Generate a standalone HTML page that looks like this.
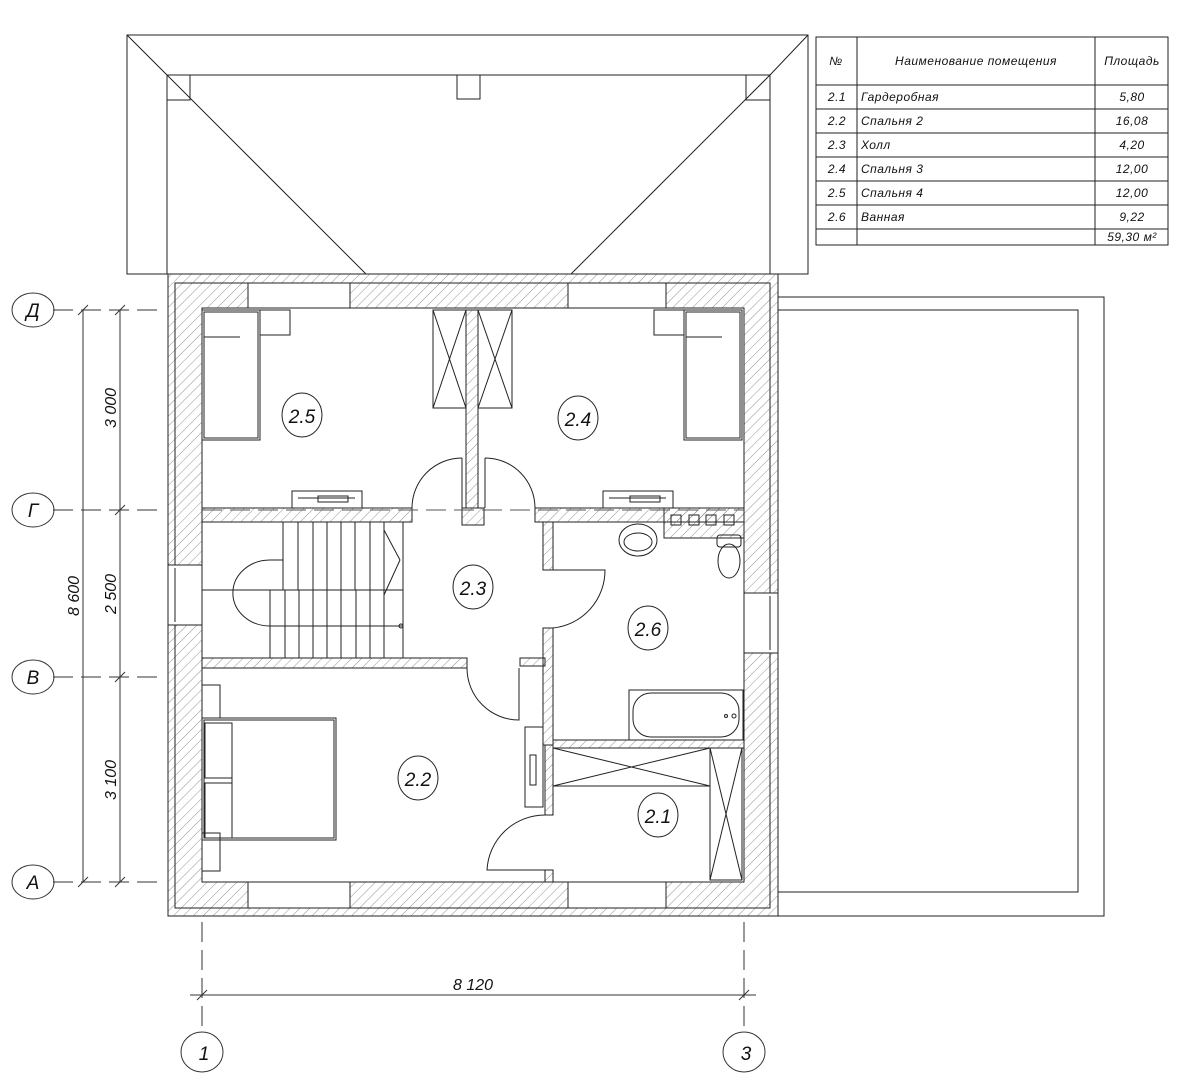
<!DOCTYPE html>
<html><head><meta charset="utf-8"><style>
html,body{margin:0;padding:0;background:#fff;}
svg{display:block;font-family:"Liberation Sans","DejaVu Sans",sans-serif;}
text{font-style:italic;fill:#111;}
</style></head><body>
<svg width="1177" height="1080" viewBox="0 0 1177 1080" xmlns="http://www.w3.org/2000/svg">
<defs>
<pattern id="h" width="7" height="7" patternUnits="userSpaceOnUse" patternTransform="rotate(45)">
<line x1="0" y1="0" x2="0" y2="7" stroke="#777" stroke-width="0.8"/>
</pattern>
</defs>
<g stroke="#222" stroke-width="1" fill="none">
<rect x="127" y="35" width="681" height="239"/>
<rect x="167" y="75" width="603" height="199"/>
<line x1="127" y1="35" x2="167" y2="75"/><line x1="808" y1="35" x2="770" y2="75"/>
<line x1="167" y1="75" x2="366" y2="274"/><line x1="770" y1="75" x2="571" y2="274"/>
<rect x="167" y="75" width="23" height="25"/><rect x="746" y="75" width="24" height="25"/>
<rect x="457" y="75" width="23" height="24"/>
<rect x="778" y="297" width="326" height="619"/>
<polyline points="778,310 1078,310 1078,892 778,892"/>

<path d="M168,274 H778 V916 H168 Z M202,308 V882 H744 V308 Z" fill="url(#h)" fill-rule="evenodd"/>
<rect x="175" y="283" width="595" height="625"/>
<g fill="#fff">
<rect x="248" y="283" width="102" height="25"/><rect x="568" y="283" width="98" height="25"/>
<rect x="248" y="882" width="102" height="26"/><rect x="568" y="882" width="98" height="26"/>
<rect x="168" y="565" width="34" height="60"/><rect x="744" y="593" width="34" height="60"/>
</g>
<line x1="252" y1="283" x2="346" y2="283"/><line x1="572" y1="283" x2="662" y2="283"/>
<line x1="252" y1="908" x2="346" y2="908"/><line x1="572" y1="908" x2="662" y2="908"/>
<line x1="175" y1="568" x2="175" y2="622"/><line x1="770" y1="596" x2="770" y2="650"/>

<g fill="url(#h)">
<rect x="202" y="508" width="210" height="14"/>
<rect x="462" y="508" width="22" height="17"/>
<rect x="535" y="508" width="209" height="14"/>
<rect x="466" y="310" width="12" height="198"/>
<rect x="202" y="658" width="265" height="10"/>
<rect x="520" y="658" width="25" height="8"/>
<rect x="543" y="522" width="10" height="48"/>
<rect x="543" y="628" width="10" height="117"/>
<rect x="553" y="740" width="191" height="8"/>
<rect x="545" y="745" width="8" height="70"/>
<rect x="545" y="870" width="8" height="12"/>
<rect x="664" y="508" width="80" height="30"/>
</g>
<rect x="202" y="522" width="201" height="136"/>
<g>
<line x1="283" y1="522" x2="283" y2="590"/><line x1="298" y1="522" x2="298" y2="590"/><line x1="313" y1="522" x2="313" y2="590"/><line x1="327" y1="522" x2="327" y2="590"/><line x1="341" y1="522" x2="341" y2="590"/><line x1="355" y1="522" x2="355" y2="590"/><line x1="370" y1="522" x2="370" y2="590"/><line x1="384" y1="522" x2="384" y2="590"/>
<line x1="252" y1="590" x2="403" y2="590"/>
<line x1="270" y1="590" x2="270" y2="658"/><line x1="285" y1="590" x2="285" y2="658"/><line x1="299" y1="590" x2="299" y2="658"/><line x1="313" y1="590" x2="313" y2="658"/><line x1="327" y1="590" x2="327" y2="658"/><line x1="341" y1="590" x2="341" y2="658"/><line x1="356" y1="590" x2="356" y2="658"/><line x1="370" y1="590" x2="370" y2="658"/><line x1="384" y1="590" x2="384" y2="658"/>
<line x1="270" y1="560" x2="283" y2="560"/><line x1="202" y1="590" x2="252" y2="590"/>
<path d="M283,560 H270 A36,32 0 0 0 270,626 H403"/>
<line x1="384" y1="530" x2="400" y2="560"/><line x1="400" y1="560" x2="384" y2="595"/>
<circle cx="401" cy="626" r="2"/>
</g>
<path d="M412,508 A50,50 0 0 1 462,458"/><line x1="462" y1="458" x2="462" y2="508"/>
<path d="M535,508 A50,50 0 0 0 485,458"/><line x1="485" y1="458" x2="485" y2="508"/>
<path d="M553,570 H605 A58,58 0 0 1 553,628"/>
<path d="M467,668 A52,52 0 0 0 519,720 V668"/>
<path d="M545,815 A58,58 0 0 0 487,870 H545"/>
<line x1="202" y1="510" x2="744" y2="510" stroke-dasharray="20,8" stroke="#555"/>
<rect x="202" y="310" width="58" height="130"/><rect x="204" y="312" width="54" height="126"/>
<rect x="260" y="310" width="30" height="25"/>
<rect x="684" y="310" width="58" height="130"/><rect x="686" y="312" width="54" height="126"/>
<rect x="654" y="310" width="30" height="25"/>
<line x1="204" y1="337" x2="240" y2="337"/><line x1="686" y1="337" x2="722" y2="337"/>
<rect x="433" y="310" width="33" height="98"/><line x1="433" y1="310" x2="466" y2="408"/><line x1="466" y1="310" x2="433" y2="408"/>
<rect x="478" y="310" width="34" height="98"/><line x1="478" y1="310" x2="512" y2="408"/><line x1="512" y1="310" x2="478" y2="408"/>
<rect x="292" y="491" width="70" height="17"/><line x1="298" y1="498" x2="355" y2="498"/><rect x="318" y="496" width="30" height="6"/>
<rect x="603" y="491" width="70" height="17"/><line x1="609" y1="498" x2="666" y2="498"/><rect x="630" y="496" width="30" height="6"/>
<rect x="671" y="515" width="10" height="10"/><rect x="689" y="515" width="10" height="10"/><rect x="706" y="515" width="10" height="10"/><rect x="724" y="515" width="10" height="10"/>
<ellipse cx="638" cy="540" rx="19" ry="16"/><ellipse cx="638" cy="542" rx="14" ry="9"/>
<rect x="717" y="535" width="24" height="12" rx="3"/><ellipse cx="729" cy="561" rx="11" ry="17"/>
<rect x="629" y="690" width="114" height="50"/><rect x="633" y="693" width="106" height="44" rx="18"/>
<circle cx="726" cy="716" r="1.5"/><circle cx="734" cy="716" r="2"/>
<rect x="553" y="748" width="157" height="38"/><line x1="553" y1="748" x2="710" y2="786"/><line x1="710" y1="748" x2="553" y2="786"/>
<rect x="710" y="748" width="32" height="132"/><line x1="710" y1="748" x2="742" y2="880"/><line x1="742" y1="748" x2="710" y2="880"/>
<rect x="525" y="727" width="18" height="80"/><rect x="530" y="755" width="6" height="30"/>
<rect x="202" y="685" width="18" height="33"/><rect x="202" y="833" width="18" height="38"/>
<rect x="202" y="718" width="134" height="122"/><rect x="204" y="720" width="130" height="118"/>
<rect x="205" y="723" width="27" height="55"/><rect x="205" y="783" width="27" height="55"/>
<line x1="232" y1="733" x2="232" y2="833"/>
</g>
<g stroke="#222" fill="none">
<ellipse cx="302" cy="415" rx="20" ry="22"/><ellipse cx="578" cy="418" rx="20" ry="22"/>
<ellipse cx="473" cy="587" rx="20" ry="22"/><ellipse cx="648" cy="628" rx="20" ry="22"/>
<ellipse cx="418" cy="778" rx="20" ry="22"/><ellipse cx="658" cy="815" rx="20" ry="22"/>
</g>
<g font-size="19" text-anchor="middle">
<text x="302" y="423">2.5</text><text x="578" y="426">2.4</text><text x="473" y="595">2.3</text>
<text x="648" y="636">2.6</text><text x="418" y="786">2.2</text><text x="658" y="823">2.1</text>
</g>
<g stroke="#333" stroke-width="1" fill="none">
<line x1="83" y1="310" x2="83" y2="882"/><line x1="120" y1="310" x2="120" y2="882"/>
<g stroke-dasharray="20,8">
<line x1="53" y1="310" x2="165" y2="310"/><line x1="53" y1="510" x2="165" y2="510"/>
<line x1="53" y1="677" x2="165" y2="677"/><line x1="53" y1="882" x2="165" y2="882"/>
<line x1="202" y1="922" x2="202" y2="1030"/><line x1="744" y1="922" x2="744" y2="1030"/>
</g>
<g>
<line x1="78" y1="315" x2="88" y2="305"/><line x1="115" y1="315" x2="125" y2="305"/>
<line x1="115" y1="515" x2="125" y2="505"/><line x1="115" y1="682" x2="125" y2="672"/>
<line x1="78" y1="887" x2="88" y2="877"/><line x1="115" y1="887" x2="125" y2="877"/>
<line x1="197" y1="1000" x2="207" y2="990"/><line x1="739" y1="1000" x2="749" y2="990"/>
</g>
<line x1="190" y1="995" x2="756" y2="995"/>
<ellipse cx="33" cy="310" rx="21" ry="17"/><ellipse cx="33" cy="510" rx="21" ry="17"/>
<ellipse cx="33" cy="677" rx="21" ry="17"/><ellipse cx="33" cy="882" rx="21" ry="17"/>
<ellipse cx="202" cy="1052" rx="21" ry="20"/><ellipse cx="744" cy="1052" rx="21" ry="20"/>
</g>
<g font-size="19" text-anchor="middle">
<text x="33" y="317">Д</text><text x="33" y="517">Г</text><text x="33" y="684">В</text><text x="33" y="889">А</text>
<text x="204" y="1060">1</text><text x="746" y="1060">3</text>
</g>
<g font-size="16" text-anchor="middle">
<text transform="translate(116,408) rotate(-90)">3 000</text>
<text transform="translate(116,594) rotate(-90)">2 500</text>
<text transform="translate(116,780) rotate(-90)">3 100</text>
<text transform="translate(79,596) rotate(-90)">8 600</text>
<text x="473" y="990">8 120</text>
</g>
<g stroke="#222" fill="none">
<rect x="816" y="37" width="352" height="208"/>
<line x1="857" y1="37" x2="857" y2="245"/><line x1="1095" y1="37" x2="1095" y2="245"/>
<line x1="816" y1="85" x2="1168" y2="85"/><line x1="816" y1="109" x2="1168" y2="109"/>
<line x1="816" y1="133" x2="1168" y2="133"/><line x1="816" y1="157" x2="1168" y2="157"/>
<line x1="816" y1="181" x2="1168" y2="181"/><line x1="816" y1="205" x2="1168" y2="205"/>
<line x1="816" y1="229" x2="1168" y2="229"/>
</g>
<g font-size="12" letter-spacing="0.5">
<text x="836" y="65" text-anchor="middle">№</text>
<text x="976" y="65" text-anchor="middle">Наименование помещения</text>
<text x="1132" y="65" text-anchor="middle">Площадь</text>
<g text-anchor="middle">
<text x="837" y="101">2.1</text><text x="837" y="125">2.2</text><text x="837" y="149">2.3</text>
<text x="837" y="173">2.4</text><text x="837" y="197">2.5</text><text x="837" y="221">2.6</text>
<text x="1132" y="101">5,80</text><text x="1132" y="125">16,08</text><text x="1132" y="149">4,20</text>
<text x="1132" y="173">12,00</text><text x="1132" y="197">12,00</text><text x="1132" y="221">9,22</text>
<text x="1132" y="241">59,30 м²</text>
</g>
<text x="861" y="101">Гардеробная</text><text x="861" y="125">Спальня 2</text><text x="861" y="149">Холл</text>
<text x="861" y="173">Спальня 3</text><text x="861" y="197">Спальня 4</text><text x="861" y="221">Ванная</text>
</g>
</svg>
</body></html>
